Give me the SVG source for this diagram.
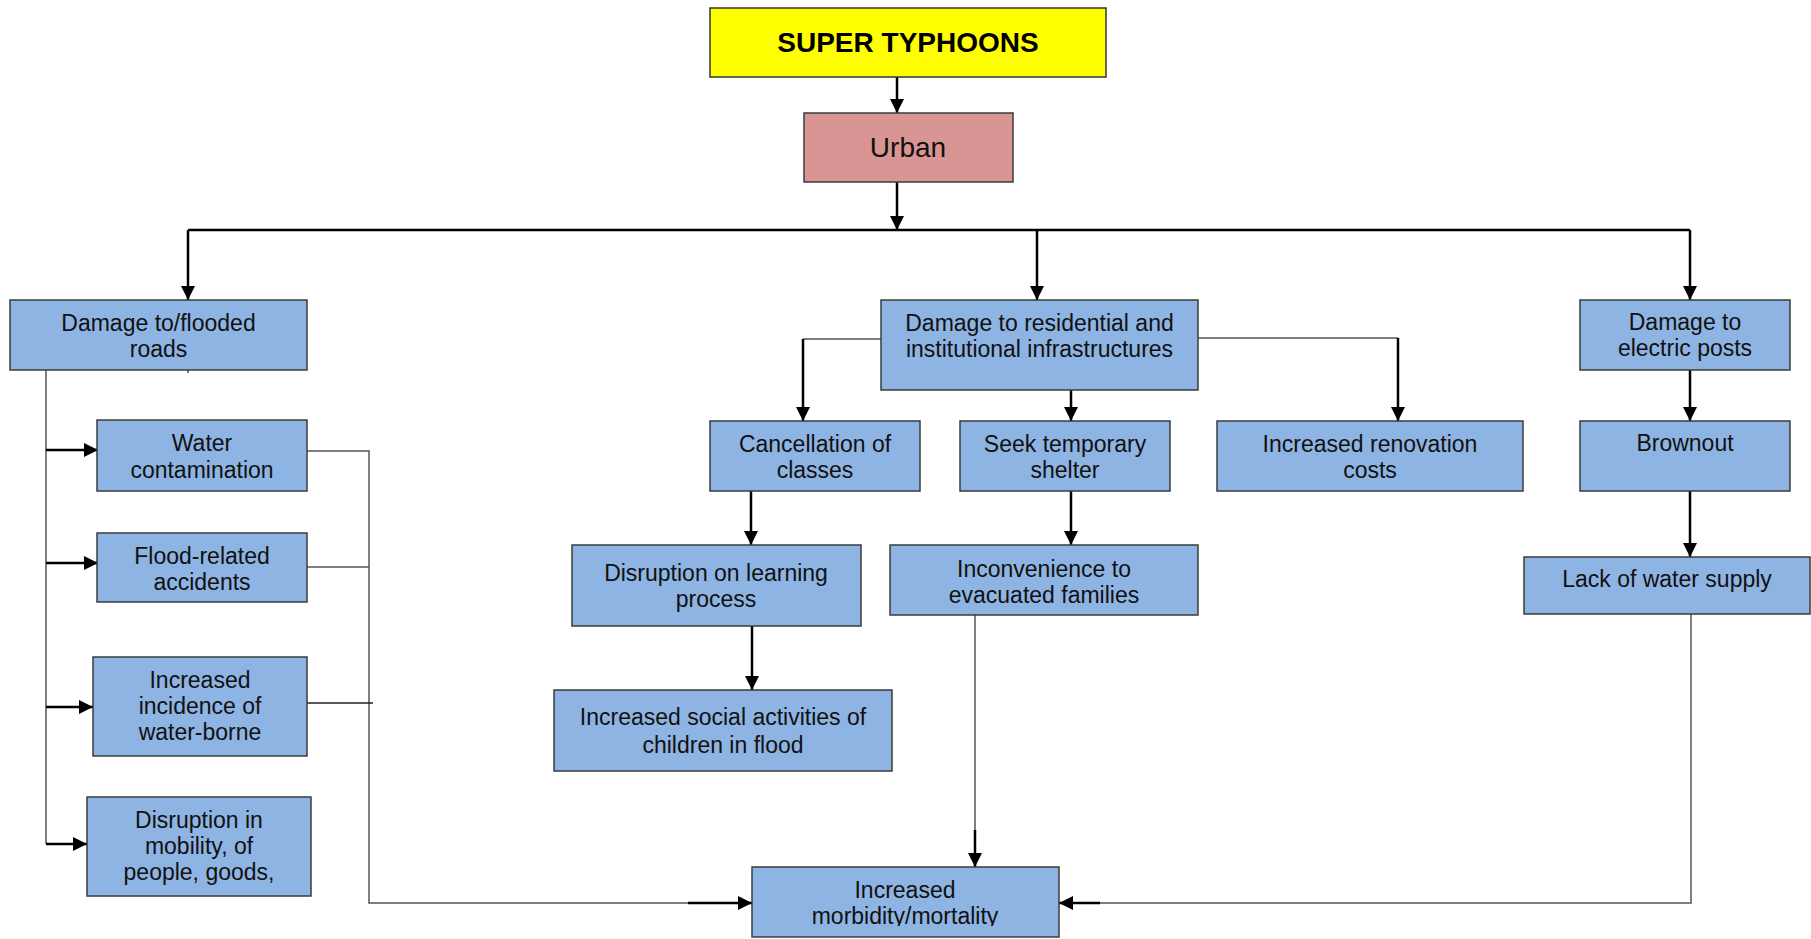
<svg xmlns="http://www.w3.org/2000/svg" width="1811" height="939" viewBox="0 0 1811 939">
  <style>
    .box { fill: #8eb4e3; stroke: #3b3b3b; stroke-width: 1.5; }
    .lbl { font-family: "Liberation Sans", Arial, sans-serif; font-size: 23px; fill: #111; text-anchor: middle; }
    .main { fill: none; stroke: #000; stroke-width: 2.5; }
    .thin { fill: none; stroke: #555; stroke-width: 1.5; }
  </style>
  <defs>
    <marker id="arr" viewBox="0 0 16 16" refX="16" refY="8" markerWidth="15" markerHeight="14" markerUnits="userSpaceOnUse" orient="auto">
      <path d="M0,0 L16,8 L0,16 z" fill="#000"/>
    </marker>
    <clipPath id="clipMorb">
      <rect x="752" y="867" width="307" height="59"/>
    </clipPath>
  </defs>
  <rect width="1811" height="939" fill="#fff"/>

  <!-- connectors -->
  <g id="connectors">
    <path class="thin" d="M46,370 V844"/>
    <path class="thin" d="M307,451 H369 V903 H700"/>
    <path class="thin" d="M307,567 H369"/>
    <path class="thin" d="M307,703 H373" style="stroke:#222"/>
    <path class="thin" d="M881,339 H803"/>
    <path class="thin" d="M1198,338 H1398"/>
    <path class="thin" d="M975,615 V830"/>
    <path class="thin" d="M1691,614 V903 H1100"/>
    <path class="thin" d="M188,370 V373"/>

    <path class="main" d="M897,77 V113" marker-end="url(#arr)"/>
    <path class="main" d="M897,182 V230" marker-end="url(#arr)"/>
    <path class="main" d="M188,230 H1690"/>
    <path class="main" d="M188,230 V300" marker-end="url(#arr)"/>
    <path class="main" d="M1037,230 V300" marker-end="url(#arr)"/>
    <path class="main" d="M1690,230 V300" marker-end="url(#arr)"/>

    <path class="main" d="M46,450 H98" marker-end="url(#arr)"/>
    <path class="main" d="M46,563 H98" marker-end="url(#arr)"/>
    <path class="main" d="M46,707 H93" marker-end="url(#arr)"/>
    <path class="main" d="M46,844 H87" marker-end="url(#arr)"/>

    <path class="main" d="M803,339 V421" marker-end="url(#arr)"/>
    <path class="main" d="M1398,338 V421" marker-end="url(#arr)"/>
    <path class="main" d="M1071,390 V421" marker-end="url(#arr)"/>
    <path class="main" d="M1071,491 V545" marker-end="url(#arr)"/>
    <path class="main" d="M751,491 V545" marker-end="url(#arr)"/>
    <path class="main" d="M752,626 V690" marker-end="url(#arr)"/>
    <path class="main" d="M1690,370 V421" marker-end="url(#arr)"/>
    <path class="main" d="M1690,491 V557" marker-end="url(#arr)"/>

    <path class="main" d="M975,830 V867" marker-end="url(#arr)"/>
    <path class="main" d="M688,903 H752" marker-end="url(#arr)"/>
    <path class="main" d="M1100,903 H1059" marker-end="url(#arr)"/>
  </g>

  <!-- nodes -->
  <g id="typhoons">
    <rect x="710" y="8" width="396" height="69" fill="#ffff00" stroke="#333" stroke-width="1.5"/>
    <text x="908" y="52" class="lbl" style="font-size:28px;font-weight:bold;fill:#000">SUPER TYPHOONS</text>
  </g>
  <g id="urban">
    <rect x="804" y="113" width="209" height="69" fill="#d99594" stroke="#3b3b3b" stroke-width="1.5"/>
    <text x="908" y="157" class="lbl" style="font-size:28px">Urban</text>
  </g>
  <g id="roads">
    <rect class="box" x="10" y="300" width="297" height="70"/>
    <text class="lbl"><tspan x="158.5" y="331">Damage to/flooded</tspan><tspan x="158.5" y="357">roads</tspan></text>
  </g>
  <g id="residential">
    <rect class="box" x="881" y="300" width="317" height="90"/>
    <text class="lbl"><tspan x="1039.5" y="331">Damage to residential and</tspan><tspan x="1039.5" y="357">institutional infrastructures</tspan></text>
  </g>
  <g id="electric">
    <rect class="box" x="1580" y="300" width="210" height="70"/>
    <text class="lbl"><tspan x="1685" y="330">Damage to</tspan><tspan x="1685" y="356">electric posts</tspan></text>
  </g>
  <g id="water">
    <rect class="box" x="97" y="420" width="210" height="71"/>
    <text class="lbl"><tspan x="202" y="451">Water</tspan><tspan x="202" y="478">contamination</tspan></text>
  </g>
  <g id="flood">
    <rect class="box" x="97" y="533" width="210" height="69"/>
    <text class="lbl"><tspan x="202" y="564">Flood-related</tspan><tspan x="202" y="590">accidents</tspan></text>
  </g>
  <g id="incidence">
    <rect class="box" x="93" y="657" width="214" height="99"/>
    <text class="lbl"><tspan x="200" y="688">Increased</tspan><tspan x="200" y="714">incidence of</tspan><tspan x="200" y="740">water-borne</tspan></text>
  </g>
  <g id="mobility">
    <rect class="box" x="87" y="797" width="224" height="99"/>
    <text class="lbl"><tspan x="199" y="828">Disruption in</tspan><tspan x="199" y="854">mobility, of</tspan><tspan x="199" y="880">people, goods,</tspan></text>
  </g>
  <g id="cancellation">
    <rect class="box" x="710" y="421" width="210" height="70"/>
    <text class="lbl"><tspan x="815" y="452">Cancellation of</tspan><tspan x="815" y="478">classes</tspan></text>
  </g>
  <g id="shelter">
    <rect class="box" x="960" y="421" width="210" height="70"/>
    <text class="lbl"><tspan x="1065" y="452">Seek temporary</tspan><tspan x="1065" y="478">shelter</tspan></text>
  </g>
  <g id="renovation">
    <rect class="box" x="1217" y="421" width="306" height="70"/>
    <text class="lbl"><tspan x="1370" y="452">Increased renovation</tspan><tspan x="1370" y="478">costs</tspan></text>
  </g>
  <g id="brownout">
    <rect class="box" x="1580" y="421" width="210" height="70"/>
    <text class="lbl" x="1685" y="451">Brownout</text>
  </g>
  <g id="learning">
    <rect class="box" x="572" y="545" width="289" height="81"/>
    <text class="lbl"><tspan x="716" y="581">Disruption on learning</tspan><tspan x="716" y="607">process</tspan></text>
  </g>
  <g id="inconvenience">
    <rect class="box" x="890" y="545" width="308" height="70"/>
    <text class="lbl"><tspan x="1044" y="577">Inconvenience to</tspan><tspan x="1044" y="603">evacuated families</tspan></text>
  </g>
  <g id="water-supply">
    <rect class="box" x="1524" y="557" width="286" height="57"/>
    <text class="lbl" x="1667" y="587">Lack of water supply</text>
  </g>
  <g id="social">
    <rect class="box" x="554" y="690" width="338" height="81"/>
    <text class="lbl"><tspan x="723" y="725">Increased social activities of</tspan><tspan x="723" y="753">children in flood</tspan></text>
  </g>
  <g id="morbidity">
    <rect class="box" x="752" y="867" width="307" height="70"/>
    <text class="lbl" clip-path="url(#clipMorb)"><tspan x="905" y="898">Increased</tspan><tspan x="905" y="924">morbidity/mortality</tspan></text>
  </g>
</svg>
